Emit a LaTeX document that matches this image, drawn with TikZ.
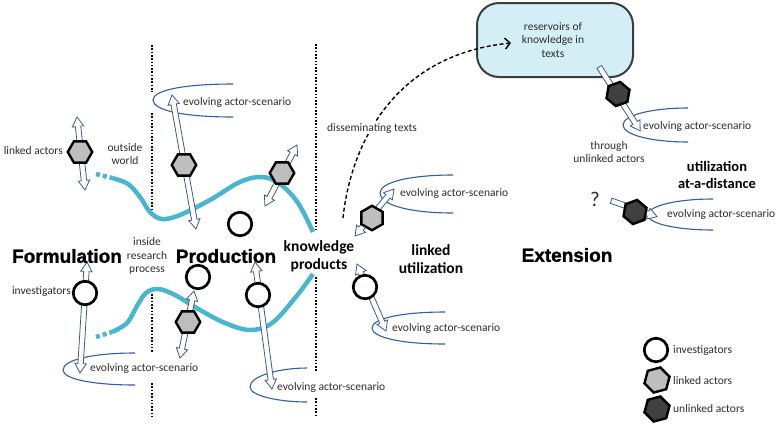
\documentclass[tikz,border=0pt]{standalone}
\usepackage{fontspec}
\setmainfont{Carlito}
\newfontfamily\headfont{Liberation Sans}[BoldFeatures={FakeBold=1.2}]
\usetikzlibrary{shapes.geometric,shapes.arrows,arrows.meta,calc}

\definecolor{cyanc}{RGB}{72,182,204}
\definecolor{scenc}{RGB}{50,95,160}
\definecolor{arrc}{RGB}{60,90,130}
\definecolor{hexg}{RGB}{190,190,190}
\definecolor{hexd}{RGB}{64,64,64}
\definecolor{boxf}{RGB}{212,238,246}
\definecolor{boxd}{RGB}{60,60,60}
\definecolor{txtc}{RGB}{45,45,45}

\tikzset{
  dotl/.style={line width=1.8pt, dash pattern=on 1.6pt off 1.7pt},
  cyanl/.style={draw=cyanc, line width=4.5pt},
  scen/.style={draw=scenc, line width=1.1pt},
  inv/.style={circle, draw=black, line width=2.7pt, fill=white, minimum size=23.5pt, inner sep=0pt},
  lhex/.style={regular polygon, regular polygon sides=6, draw=black, line width=2.4pt, fill=hexg, minimum size=24.5pt, inner sep=0pt},
  uhex/.style={lhex, fill=hexd},
  harrow/.style={double arrow, draw=arrc, fill=white, line width=0.8pt, inner xsep=0pt, inner ysep=2.3pt, double arrow head extend=3pt, double arrow tip angle=62, outer sep=0pt},
  sarrow/.style={single arrow, draw=arrc, fill=white, line width=0.8pt, inner xsep=0pt, inner ysep=2.3pt, single arrow head extend=3pt, single arrow tip angle=62, outer sep=0pt},
  small/.style={font=\fontsize{11.5}{13.5}\selectfont, text=txtc, inner sep=0pt, align=center},
  mid/.style={font=\bfseries\fontsize{15.5}{18}\selectfont, inner sep=0pt, align=center},
  midb/.style={font=\bfseries\fontsize{14.5}{17}\selectfont, inner sep=0pt, align=center},
  big/.style={font=\headfont\bfseries\fontsize{19}{22}\selectfont, inner sep=0pt},
  dashc/.style={line width=1.4pt, dash pattern=on 4pt off 2.5pt},
}

\newcommand\hollowarrow[4]{% style, name, from, to
  \path let \p1=(#3), \p2=(#4), \n1={veclen(\x2-\x1,\y2-\y1)} in
    (#3) -- (#4) node[midway, sloped, allow upside down, #1, minimum height=\n1] (#2) {};
}
\newcommand\scenario[5]{% xl, ym, xr, yt, yb
  \draw[scen] (#3,#4) .. controls ({#1+30},#4) and (#1,{#2-0.6*(#2-#4)}) .. (#1,#2)
     .. controls (#1,{#2+0.6*(#5-#2)}) and ({#1+30},#5) .. (#3,#5);
}

\begin{document}
\begin{tikzpicture}[x=1pt,y=-1pt]
\useasboundingbox (0,0) rectangle (778,429);
\fill[white] (0,0) rectangle (778,429);

% dotted boundaries
\draw[dotl] (152,45) -- (152,92);
\draw[dotl] (152,113) -- (152,213);
\draw[dotl] (152,294) -- (152,352);
\draw[dotl] (152,383) -- (152,417);
\draw[dotl] (316,44) -- (316,232);
\draw[dotl] (316,277) -- (316,372);
\draw[dotl] (316,398) -- (316,415);

% cyan boundary curves
\draw[cyanl, dash pattern=on 4pt off 3pt] (96,174) -- (112,178);
\draw[cyanl] plot[smooth, tension=0.6] coordinates {(112,178) (128,184) (140,197) (150,212) (162,219) (180,215) (210,200) (240,182) (262,177) (280,184) (298,203) (313,232)};
\draw[cyanl, dash pattern=on 4pt off 3pt] (96,337) -- (112,332);
\draw[cyanl] plot[smooth, tension=0.6] coordinates {(112,332) (127,323) (137,306) (146,293) (158,289) (175,295) (200,310) (225,323) (250,330) (272,323) (295,298) (313,274)};

% evolving actor-scenarios
\scenario{153}{100}{233}{84}{117}
\scenario{63}{370}{135}{353}{385}
\scenario{250}{387}{307}{368}{402}
\scenario{380}{193}{453}{175}{213}
\scenario{372}{328}{445}{312}{344}
\scenario{623}{125}{688}{108}{142}
\scenario{648}{215}{713}{199}{230}
\node[small, anchor=west] (s1) at (183,102) {evolving actor-scenario};
\node[small, anchor=west] (s2) at (90,368) {evolving actor-scenario};
\node[small, anchor=west] (s3) at (277,387) {evolving actor-scenario};
\node[small, anchor=west] (s4) at (400,193) {evolving actor-scenario};
\node[small, anchor=west] (s5) at (392,328) {evolving actor-scenario};
\node[small, anchor=west] (s6) at (643,126) {evolving actor-scenario};
\node[small, anchor=west] (s7) at (667,214) {evolving actor-scenario};

% reservoir box
\node[draw=boxd, line width=2pt, fill=boxf, rounded corners=22pt, minimum width=156pt, minimum height=74pt, inner sep=0pt] (box) at (555,40) {};
\node[small] (boxtext) at (553,40) {reservoirs of\\knowledge in\\texts};

% disseminating texts
\coordinate (dS) at (343,218);
\coordinate (dE) at (511,43);
\draw[dashc, -{Straight Barb[length=5pt,width=11pt]}] (dS) .. controls (350,150) and (390,55) .. (dE);
\node[small, fill=white, inner sep=1pt] (tDiss) at (372,128) {disseminating texts};

% arrow end points
\coordinate (a1s) at (77,117);  \coordinate (a1e) at (85,190);
\coordinate (a2s) at (172,95);  \coordinate (a2e) at (196,229);
\coordinate (a3s) at (297,145); \coordinate (a3e) at (265,206);
\coordinate (a4s) at (194,291); \coordinate (a4e) at (180,358);
\coordinate (a5s) at (87,262);  \coordinate (a5e) at (80,373);
\coordinate (a6s) at (255,262); \coordinate (a6e) at (272,389);
\coordinate (a7s) at (355,236); \coordinate (a7e) at (394,189);
\coordinate (a8s) at (357,264); \coordinate (a8e) at (386,331);
\coordinate (a9s) at (598,65);  \coordinate (a9e) at (639,129);
\coordinate (a10s) at (609,200); \coordinate (a10e) at (655,216);

\hollowarrow{harrow}{ar1}{a1s}{a1e}
\hollowarrow{harrow}{ar2}{a2s}{a2e}
\hollowarrow{harrow}{ar3}{a3s}{a3e}
\hollowarrow{harrow}{ar4}{a4s}{a4e}
\hollowarrow{harrow}{ar5}{a5s}{a5e}
\hollowarrow{harrow}{ar6}{a6s}{a6e}
\hollowarrow{harrow}{ar7}{a7s}{a7e}
\hollowarrow{harrow}{ar8}{a8s}{a8e}
\hollowarrow{sarrow}{ar9}{a9s}{a9e}
\hollowarrow{sarrow}{ar10}{a10s}{a10e}

% actors
\node[lhex] (h1) at (80,152) {};
\node[lhex] (h2) at (184,165) {};
\node[lhex] (h3) at (282,173) {};
\node[lhex] (h4) at (188,322) {};
\node[lhex, rotate=30] (h5) at (372,218) {};
\node[uhex, rotate=20] (d1) at (618,94) {};
\node[uhex, rotate=20] (d2) at (635,212) {};
\node[inv] (cA) at (85,293) {};
\node[inv] (cB) at (240,224) {};
\node[inv] (cC) at (198,277) {};
\node[inv] (cD) at (258,295) {};
\node[inv] (cE) at (365,287) {};

% labels
\node[small, anchor=east] (tLinked) at (63,151) {linked actors};
\node[small] (tOutside) at (125,154) {outside\\world};
\node[small] (tInside) at (147,256) {inside\\research\\process};
\node[small, anchor=east] (tInv) at (71,292) {investigators};
\node[big] (tForm) at (67,256) {Formulation};
\node[big] (tProd) at (226,256) {Production};
\node[big] (tExt) at (567,255) {Extension};
\node[mid] (tKP) at (319,256) {knowledge\\products};
\node[mid] (tLU) at (431,259) {linked\\utilization};
\node[midb] (tUD) at (717,175) {utilization\\at-a-distance};
\node[small] (tThrough) at (609,152) {through\\unlinked actors};
\node[font=\fontsize{21}{21}\selectfont, text=txtc, inner sep=0pt] (tQ) at (595,199) {?};

% legend
\node[inv] (lg1) at (656,350) {};
\node[lhex, minimum size=26pt, rotate=15] (lg2) at (657,380) {};
\node[uhex, minimum size=26pt, rotate=15] (lg3) at (657,409) {};
\node[small, anchor=west] (lt1) at (673,351) {investigators};
\node[small, anchor=west] (lt2) at (673,381) {linked actors};
\node[small, anchor=west] (lt3) at (673,409) {unlinked actors};
\end{tikzpicture}
\end{document}
